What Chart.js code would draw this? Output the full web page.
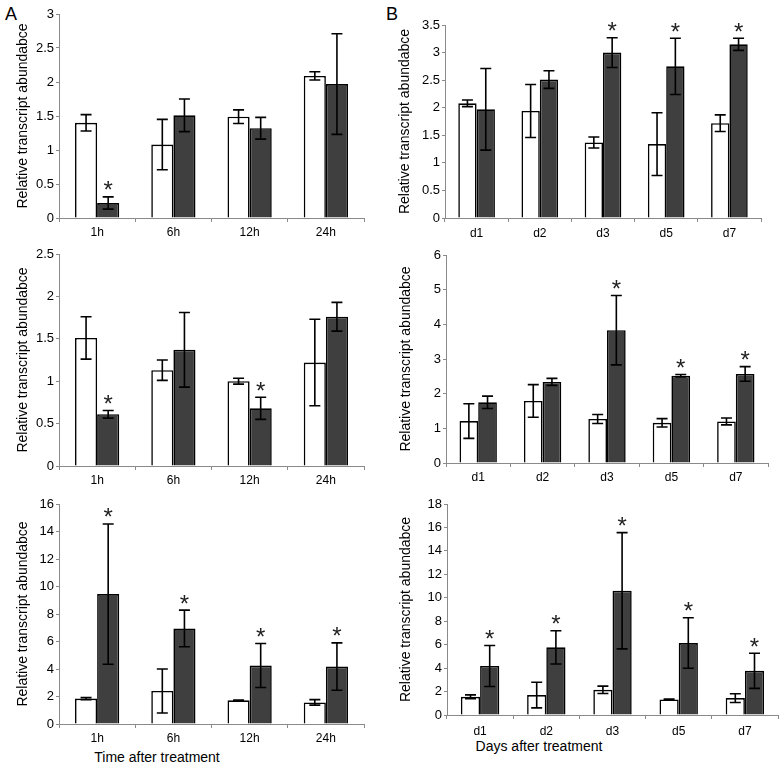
<!DOCTYPE html>
<html><head><meta charset="utf-8">
<script src="https://cdn.jsdelivr.net/npm/chart.js@4.4.0/dist/chart.umd.min.js"></script>
<style>
html,body{margin:0;padding:0;background:#fff;}
#wrap{position:relative;width:780px;height:769px;overflow:hidden;font-family:"Liberation Sans",Arial,sans-serif;}
canvas{position:absolute;}
.lbl{position:absolute;color:#000;white-space:nowrap;}
</style></head><body>
<div id="wrap">
  <div class="lbl" style="left:5px;top:5px;font-size:18px;line-height:18px;">A</div>
  <div class="lbl" style="left:386px;top:5px;font-size:18px;line-height:18px;">B</div>
  <div class="lbl" style="left:157px;top:749px;font-size:14px;line-height:16px;transform:translateX(-50%);">Time after treatment</div>
  <div class="lbl" style="left:539px;top:738px;font-size:14px;line-height:16px;transform:translateX(-50%);">Days after treatment</div>
</div>
<script>
// ---- categories ----
const hoursCats = ['1h', '6h', '12h', '24h'];
const daysCats = ['d1', 'd2', 'd3', 'd5', 'd7'];
const yTitle = 'Relative transcript abundabce';

// ---- panel A1 ----
const a1Ctrl = [1.40, 1.08, 1.49, 2.09];
const a1CtrlErr = [0.12, 0.37, 0.10, 0.06];
const a1Trt = [0.22, 1.51, 1.32, 1.97];
const a1TrtErr = [0.09, 0.24, 0.16, 0.74];
const a1Sig = [1, 0, 0, 0];

// ---- panel B1 ----
const b1Ctrl = [2.08, 1.94, 1.37, 1.34, 1.72];
const b1CtrlErr = [0.06, 0.48, 0.10, 0.57, 0.15];
const b1Trt = [1.97, 2.51, 3.00, 2.75, 3.15];
const b1TrtErr = [0.74, 0.16, 0.27, 0.51, 0.11];
const b1Sig = [0, 0, 1, 1, 1];

// ---- panel A2 ----
const a2Ctrl = [1.51, 1.13, 1.00, 1.22];
const a2CtrlErr = [0.25, 0.12, 0.035, 0.51];
const a2Trt = [0.61, 1.37, 0.68, 1.76];
const a2TrtErr = [0.045, 0.44, 0.13, 0.17];
const a2Sig = [1, 0, 1, 0];

// ---- panel B2 ----
const b2Ctrl = [1.21, 1.79, 1.27, 1.16, 1.20];
const b2CtrlErr = [0.50, 0.47, 0.13, 0.12, 0.10];
const b2Trt = [1.75, 2.34, 3.83, 2.52, 2.57];
const b2TrtErr = [0.18, 0.10, 1.00, 0.035, 0.21];
const b2Sig = [0, 0, 1, 1, 1];

// ---- panel A3 ----
const a3Ctrl = [1.85, 2.40, 1.72, 1.57];
const a3CtrlErr = [0.08, 1.60, 0.03, 0.20];
const a3Trt = [9.45, 6.95, 4.25, 4.18];
const a3TrtErr = [5.10, 1.33, 1.60, 1.72];
const a3Sig = [1, 1, 1, 1];

// ---- panel B3 ----
const b3Ctrl = [1.55, 1.70, 2.15, 1.33, 1.44];
const b3CtrlErr = [0.17, 1.09, 0.31, 0.03, 0.37];
const b3Trt = [4.18, 5.77, 10.60, 6.14, 3.77];
const b3TrtErr = [1.75, 1.42, 4.96, 2.15, 1.50];
const b3Sig = [1, 1, 1, 1, 1];

// ---- y axis ranges (max, step) ----
const a1Axis = [3, 0.5];
const b1Axis = [3.5, 0.5];
const a2Axis = [2.5, 0.5];
const b2Axis = [6, 1];
const a3Axis = [16, 2];
const b3Axis = [18, 2];

const FONT = '"Liberation Sans", Arial, sans-serif';
Chart.defaults.font.family = FONT;

const errorBarPlugin = {
  id: 'errbars',
  afterDatasetsDraw(chart) {
    const ctx = chart.ctx;
    const ys = chart.scales.y;
    chart.data.datasets.forEach((ds, i) => {
      const meta = chart.getDatasetMeta(i);
      meta.data.forEach((bar, j) => {
        const v = ds.data[j], e = ds.errors[j];
        const yt = ys.getPixelForValue(v + e);
        const yb = ys.getPixelForValue(Math.max(0, v - e));
        const x = bar.x, cw = 5.5;
        ctx.save();
        ctx.strokeStyle = '#000';
        ctx.lineWidth = 1.6;
        ctx.beginPath();
        ctx.moveTo(x, yt); ctx.lineTo(x, yb);
        ctx.moveTo(x - cw, yt); ctx.lineTo(x + cw, yt);
        ctx.moveTo(x - cw, yb); ctx.lineTo(x + cw, yb);
        ctx.stroke();
        if (ds.stars && ds.stars[j]) {
          ctx.font = '24px ' + FONT;
          ctx.fillStyle = '#222';
          ctx.textAlign = 'center';
          ctx.textBaseline = 'alphabetic';
          const m = ctx.measureText('*');
          const cy = yt - 11;
          const base = cy + (m.actualBoundingBoxAscent - m.actualBoundingBoxDescent) / 2;
          ctx.fillText('*', x, base);
        }
        ctx.restore();
      });
    });
  }
};

function makePanel(c, plot, cats, ctrl, ctrlErr, trt, trtErr, sig, axis, titlePad, xPad) {
  const cv = document.createElement('canvas');
  cv.width = c.w; cv.height = c.h;
  cv.style.left = c.left + 'px'; cv.style.top = c.top + 'px';
  cv.style.width = c.w + 'px'; cv.style.height = c.h + 'px';
  document.getElementById('wrap').appendChild(cv);
  new Chart(cv, {
    type: 'bar',
    data: {
      labels: cats,
      datasets: [
        { data: ctrl, errors: ctrlErr, backgroundColor: '#ffffff', borderColor: '#000', borderWidth: 1.6 },
        { data: trt, errors: trtErr, stars: sig, backgroundColor: '#3f3f3f', borderColor: '#000', borderWidth: 1.6 }
      ]
    },
    options: {
      responsive: false, animation: false, devicePixelRatio: 1, events: [],
      layout: { padding: { left: 0, top: plot.t - c.top, right: c.left + c.w - plot.r, bottom: 0 } },
      plugins: { legend: { display: false }, tooltip: { enabled: false } },
      datasets: { bar: { barPercentage: 1, categoryPercentage: 0.58 } },
      scales: {
        x: {
          grid: { drawOnChartArea: false, tickLength: 4, color: '#8a8a8a', offset: true },
          border: { color: '#8a8a8a' },
          ticks: { font: { size: 12 }, color: '#000', padding: xPad, maxRotation: 0 },
          afterFit(s) { s.height = c.top + c.h - plot.b; }
        },
        y: {
          min: 0, max: axis[0],
          ticks: { stepSize: axis[1], font: { size: 13 }, color: '#000', padding: 2,
                   callback: v => String(+Number(v).toFixed(2)) },
          grid: { drawOnChartArea: false, tickLength: 3, color: '#8a8a8a' },
          border: { color: '#8a8a8a' },
          title: { display: true, text: yTitle, font: { size: 14 }, color: '#000', padding: { top: titlePad, bottom: 0 } },
          afterFit(s) { s.width = plot.l - c.left; }
        }
      }
    },
    plugins: [errorBarPlugin]
  });
}

makePanel({left: 0, top: 0, w: 380, h: 240}, {l: 59, t: 14, r: 364, b: 218},
  hoursCats, a1Ctrl, a1CtrlErr, a1Trt, a1TrtErr, a1Sig, a1Axis, 14.6, 3);
makePanel({left: 385, top: 0, w: 395, h: 240}, {l: 445, t: 25, r: 761, b: 218},
  daysCats, b1Ctrl, b1CtrlErr, b1Trt, b1TrtErr, b1Sig, b1Axis, 11.6, 4);
makePanel({left: 0, top: 240, w: 380, h: 250}, {l: 59, t: 254, r: 364, b: 466},
  hoursCats, a2Ctrl, a2CtrlErr, a2Trt, a2TrtErr, a2Sig, a2Axis, 14.6, 3);
makePanel({left: 385, top: 240, w: 395, h: 250}, {l: 446, t: 255, r: 768, b: 463},
  daysCats, b2Ctrl, b2CtrlErr, b2Trt, b2TrtErr, b2Sig, b2Axis, 12.6, 3);
makePanel({left: 0, top: 490, w: 380, h: 279}, {l: 59, t: 504, r: 364, b: 724},
  hoursCats, a3Ctrl, a3CtrlErr, a3Trt, a3TrtErr, a3Sig, a3Axis, 14.6, 3);
makePanel({left: 385, top: 490, w: 395, h: 279}, {l: 447, t: 504, r: 778, b: 715},
  daysCats, b3Ctrl, b3CtrlErr, b3Trt, b3TrtErr, b3Sig, b3Axis, 12.6, 5);
</script>
</body></html>
